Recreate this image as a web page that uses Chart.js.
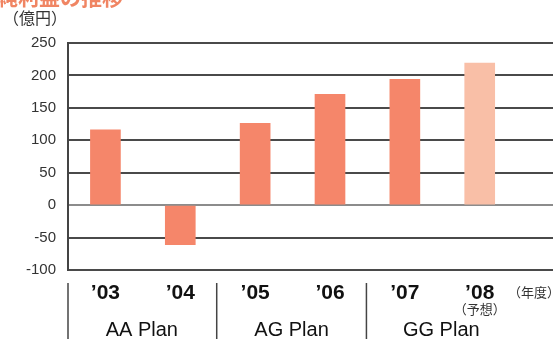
<!DOCTYPE html>
<html>
<head>
<meta charset="utf-8">
<script src="https://cdn.jsdelivr.net/npm/chart.js@4/dist/chart.umd.min.js"></script>
<style>
  html, body { margin: 0; padding: 0; background: #fff; }
  #wrap { width: 553px; height: 339px; overflow: hidden; position: relative; }
  #box { width: 592px; height: 339px; }
</style>
</head>
<body>
<div id="wrap"><div id="box"><canvas id="chart"></canvas></div></div>
<script>
// 年度ラベル・値（億円）
const years = ['’03', '’04', '’05', '’06', '’07', '’08'];
const netIncome = [116, -61, 126, 171, 194, 219];
const forecastYear = '’08';
const plans = ['AA Plan', 'AG Plan', 'GG Plan'];
const yTicks = [-100, -50, 0, 50, 100, 150, 200, 250];

const barColor = '#f5866a';
const forecastColor = '#f9bfa7';
const jpFont = '"Noto Sans CJK JP", "Liberation Sans", sans-serif';

// 注記・区切り線・プラン名
const annotations = {
  id: 'annotations',
  afterDraw(chart) {
    const { ctx, scales: { x }, chartArea } = chart;
    ctx.save();

    // タイトル（上端で切れている）
    ctx.fillStyle = '#f08563';
    ctx.font = 'bold 21px ' + jpFont;
    ctx.textAlign = 'left';
    ctx.textBaseline = 'alphabetic';
    ctx.fillText('純利益の推移', -3, 5);

    ctx.fillStyle = '#333';
    ctx.font = '16px ' + jpFont;
    ctx.textBaseline = 'middle';
    ctx.fillText('（億円）', 3, 18);

    // 区切り線
    ctx.strokeStyle = '#444';
    ctx.lineWidth = 1.5;
    const seps = [x.left, (x.getPixelForValue(1) + x.getPixelForValue(2)) / 2 - 1,
                  (x.getPixelForValue(3) + x.getPixelForValue(4)) / 2 - 1];
    seps.forEach(px => {
      ctx.beginPath();
      ctx.moveTo(px, chartArea.bottom + 13);
      ctx.lineTo(px, 339);
      ctx.stroke();
    });

    // プラン名
    ctx.fillStyle = '#111';
    ctx.font = '20px "Liberation Sans", Arial, sans-serif';
    ctx.textAlign = 'center';
    plans.forEach((p, i) => {
      const cx = (x.getPixelForValue(i * 2) + x.getPixelForValue(i * 2 + 1)) / 2 - 1;
      ctx.fillText(p, cx, 330);
    });

    // （予想）（年度）
    ctx.fillStyle = '#333';
    ctx.font = '13px ' + jpFont;
    const fi = years.indexOf(forecastYear);
    ctx.fillText('（予想）', x.getPixelForValue(fi), 309);
    ctx.font = '13px ' + jpFont;
    ctx.textAlign = 'left';
    ctx.fillText('（年度）', 508, 292);

    ctx.restore();
  }
};

new Chart(document.getElementById('chart'), {
  type: 'bar',
  data: {
    labels: [...years, ''],
    datasets: [{
      data: netIncome,
      backgroundColor: years.map(y => y === forecastYear ? forecastColor : barColor),
      barThickness: 30,
      borderWidth: 0
    }]
  },
  options: {
    responsive: true,
    maintainAspectRatio: false,
    animation: false,
    layout: { padding: { top: 43, left: 0, right: 0, bottom: 0 } },
    plugins: {
      legend: { display: false },
      tooltip: { enabled: false }
    },
    scales: {
      x: {
        grid: { display: false, drawTicks: false },
        border: { display: false },
        ticks: {
          padding: 11,
          color: '#111',
          font: { family: '"Liberation Sans", Arial, sans-serif', size: 21, weight: 'bold' }
        },
        afterFit: scale => { scale.height = 69; }
      },
      y: {
        min: -100,
        max: 250,
        afterBuildTicks: scale => { scale.ticks = yTicks.map(v => ({ value: v })); },
        grid: {
          drawTicks: false,
          lineWidth: 2,
          color: c => c.tick && c.tick.value === 0 ? '#8c8c8c' : '#4a4a4a'
        },
        border: { display: true, color: '#444', width: 2 },
        ticks: {
          padding: 12,
          color: '#333',
          font: { family: '"Liberation Sans", Arial, sans-serif', size: 15 }
        },
        afterFit: scale => { scale.width = 68; }
      }
    }
  },
  plugins: [annotations]
});
</script>
</body>
</html>
